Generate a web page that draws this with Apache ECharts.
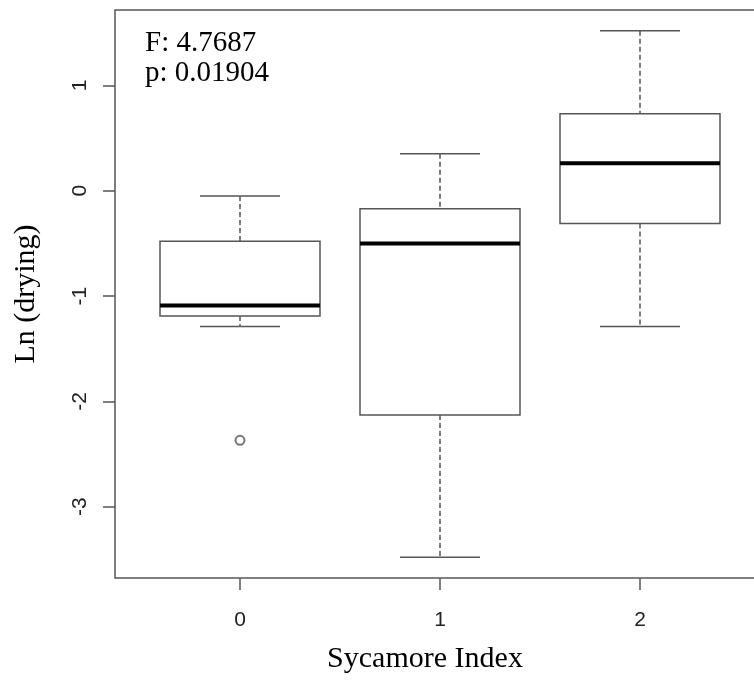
<!DOCTYPE html>
<html>
<head>
<meta charset="utf-8">
<script src="https://cdn.jsdelivr.net/npm/echarts@6/dist/echarts.min.js"></script>
<style>
  html, body { margin: 0; padding: 0; background: #fff; }
  #main { width: 754px; height: 685px; }
</style>
</head>
<body>
<div id="main"></div>
<script>
// group labels + five-number summaries
var categories = ['0', '1', '2']
var lowWhisker = [-1.29, -3.48, -1.29]
var q1 = [-1.19, -2.13, -0.31]
var median = [-1.09, -0.50, 0.26]
var q3 = [-0.48, -0.17, 0.73]
var highWhisker = [-0.05, 0.35, 1.52]
var outliers = [[0, -2.37]]
var yTicks = [-3, -2, -1, 0, 1]
var xTicks = [0, 1, 2]
var statLines = ['F: 4.7687', 'p: 0.01904']

var boxWex = 0.8
var lineColor = '#555'

var boxRows = categories.map(function (c, i) {
  return [i, lowWhisker[i], q1[i], median[i], q3[i], highWhisker[i]]
})

function renderBox(params, api) {
  var x = api.value(0)
  var low = api.coord([x, api.value(1)])
  var bq1 = api.coord([x, api.value(2)])
  var med = api.coord([x, api.value(3)])
  var bq3 = api.coord([x, api.value(4)])
  var high = api.coord([x, api.value(5)])
  var half = api.size([boxWex, 0])[0] / 2
  var cap = half / 2
  var cx = med[0]
  var solid = { stroke: lineColor, lineWidth: 1.5, fill: null }
  var dashed = { stroke: lineColor, lineWidth: 1.5, lineDash: [5, 3] }
  return {
    type: 'group',
    children: [
      { type: 'line', shape: { x1: cx, y1: high[1], x2: cx, y2: bq3[1] }, style: dashed },
      { type: 'line', shape: { x1: cx, y1: bq1[1], x2: cx, y2: low[1] }, style: dashed },
      { type: 'line', shape: { x1: cx - cap, y1: high[1], x2: cx + cap, y2: high[1] }, style: solid },
      { type: 'line', shape: { x1: cx - cap, y1: low[1], x2: cx + cap, y2: low[1] }, style: solid },
      {
        type: 'rect',
        shape: { x: cx - half, y: bq3[1], width: half * 2, height: bq1[1] - bq3[1] },
        style: { stroke: lineColor, lineWidth: 1.5, fill: '#fff' }
      },
      { type: 'line', shape: { x1: cx - half, y1: med[1], x2: cx + half, y2: med[1] }, style: { stroke: '#000', lineWidth: 4 } }
    ]
  }
}

var chart = echarts.init(document.getElementById('main'), null, { renderer: 'canvas' })

var option = {
  backgroundColor: '#fff',
  animation: false,
  grid: {
    left: 115,
    top: 10,
    width: 650,
    height: 568,
    outerBoundsMode: 'none',
    show: true,
    borderColor: lineColor,
    borderWidth: 1.5
  },
  xAxis: {
    type: 'value',
    min: -0.625,
    max: 2.625,
    name: 'Sycamore Index',
    nameLocation: 'middle',
    nameGap: 66,
    nameTextStyle: {
      fontFamily: 'Liberation Serif',
      fontSize: 30,
      color: '#000',
      padding: [0, 30, 0, 0]
    },
    axisLine: { show: false, onZero: false },
    splitLine: { show: false },
    axisTick: {
      length: 12,
      customValues: xTicks,
      lineStyle: { color: lineColor, width: 1.5 }
    },
    axisLabel: {
      customValues: xTicks,
      margin: 32,
      fontFamily: 'Liberation Sans',
      fontSize: 21,
      color: '#222',
      formatter: function (v) { return categories[v] }
    }
  },
  yAxis: {
    type: 'value',
    min: -3.677,
    max: 1.716,
    name: 'Ln (drying)',
    nameLocation: 'middle',
    nameGap: 74,
    nameTextStyle: {
      fontFamily: 'Liberation Serif',
      fontSize: 30,
      color: '#000'
    },
    axisLine: { show: false, onZero: false },
    splitLine: { show: false },
    axisTick: {
      length: 12,
      customValues: yTicks,
      lineStyle: { color: lineColor, width: 1.5 }
    },
    axisLabel: {
      customValues: yTicks,
      rotate: 90,
      margin: 24,
      fontFamily: 'Liberation Sans',
      fontSize: 21,
      color: '#222'
    }
  },
  graphic: [{
    type: 'text',
    left: 145,
    top: 28,
    style: {
      text: statLines.join('\n'),
      font: '29px "Liberation Serif"',
      lineHeight: 30,
      fill: '#000'
    }
  }],
  series: [
    {
      type: 'custom',
      silent: true,
      data: boxRows,
      encode: { x: 0, y: [1, 2, 3, 4, 5] },
      renderItem: renderBox
    },
    {
      type: 'scatter',
      silent: true,
      data: outliers,
      symbol: 'emptyCircle',
      symbolSize: 9,
      itemStyle: { color: lineColor, borderWidth: 1.3 }
    }
  ]
}

chart.setOption(option)
</script>
</body>
</html>
